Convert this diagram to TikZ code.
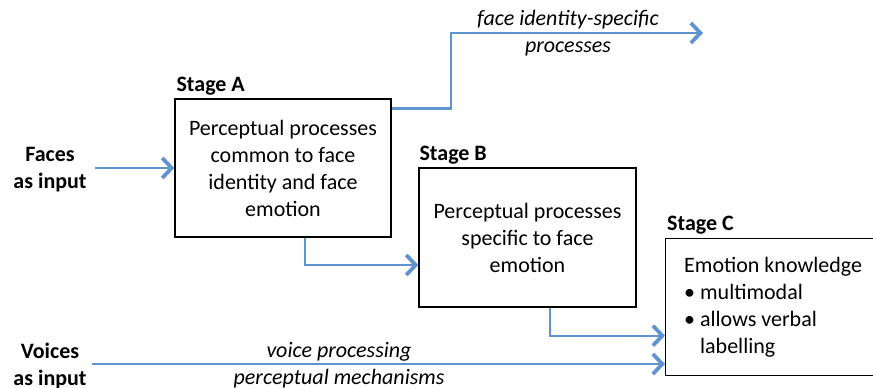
\documentclass[tikz,border=0pt]{standalone}
\usepackage{fontspec}
\setmainfont{Carlito}
\usetikzlibrary{arrows.meta}
\definecolor{flow}{RGB}{96,148,206}
\begin{document}
\begin{tikzpicture}[x=1pt,y=-1pt,
  every node/.style={font=\fontsize{22}{27}\selectfont},
  stagebox/.style={draw=black,line width=1.3pt,align=center,inner sep=0pt},
  stagelabel/.style={anchor=base west,inner sep=0pt,font=\fontsize{22}{27}\selectfont\bfseries},
  conn/.style={draw=flow,line width=2.3pt,
    -{Straight Barb[length=9.5pt,width=20pt,line width=3.8pt]}},
  plain/.style={align=center,inner sep=0pt},
  note/.style={align=center,inner sep=0pt,font=\fontsize{22}{27}\selectfont\itshape}]
\useasboundingbox (0,0) rectangle (873,388);
\clip (0,0) rectangle (873,388);

% processing stages
\node[stagebox,minimum width=216pt,minimum height=138pt] (A) at (283,168)
  {Perceptual processes\\common to face\\identity and face\\emotion};
\node[stagebox,minimum width=217pt,minimum height=139pt] (B) at (527.5,237.5)
  {Perceptual processes\\specific to face\\emotion};
\node[stagebox,anchor=north west,minimum width=240pt,minimum height=137pt] (C) at (665,238) {};
\node[plain,align=left,anchor=west] (Ctext) at ([xshift=19pt]C.west)
  {Emotion knowledge\\
   \textbullet\ multimodal\\
   \textbullet\ allows verbal\\
   \hphantom{\textbullet\ }labelling};

\node[stagelabel] (la) at ([xshift=2pt,yshift=7pt]A.north west) {Stage A};
\node[stagelabel] (lb) at ([xshift=1pt,yshift=7pt]B.north west) {Stage B};
\node[stagelabel] (lc) at ([xshift=2pt,yshift=8pt]C.north west) {Stage C};

% inputs
\node[plain,font=\fontsize{22}{27}\selectfont\bfseries] (faces) at (50,170) {Faces\\as input};
\node[plain,font=\fontsize{22}{27}\selectfont\bfseries] (voices) at (50,366) {Voices\\as input};
\coordinate (fstart) at (95,168);
\coordinate (vstart) at (92,364);
\coordinate (idout) at (703,33);

% route labels
\node[note] (idlabel) at (568,33) {face identity-specific\\processes};
\node[note] (vlabel) at (339,365) {voice processing\\perceptual mechanisms};

% connectors
\draw[conn] (fstart) -- (A.west);
\draw[conn] ([yshift=-10pt]A.north east) -- ++(59,0) |- (idout);
\draw[conn] ([xshift=22pt]A.south) |- ([yshift=-27.5pt]B.west);
\draw[conn] ([xshift=22.5pt]B.south) |- ([yshift=-28.5pt]C.west);
\draw[conn] (vstart) -- (vstart -| C.west);
\end{tikzpicture}
\end{document}
